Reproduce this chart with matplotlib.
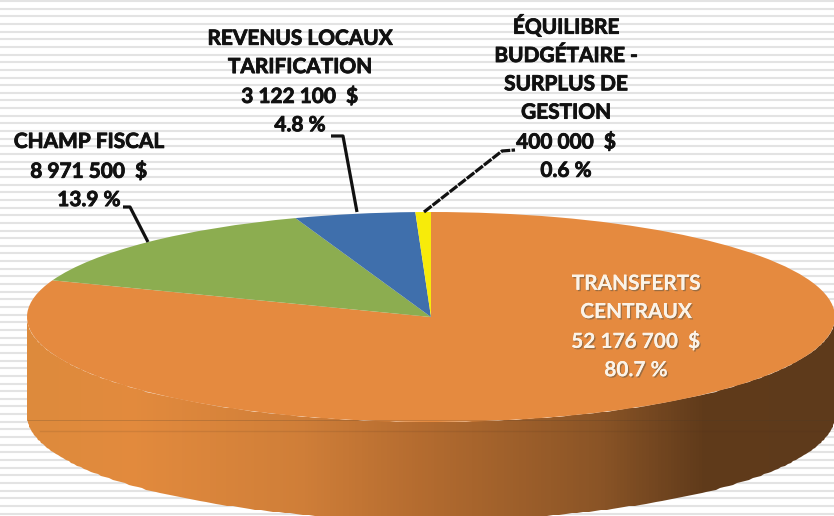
import numpy as np
from matplotlib import pyplot as plt
from matplotlib import patheffects as pe
from matplotlib.colors import LinearSegmentedColormap
from matplotlib.patches import Polygon

# Data
names = ['TRANSFERTS\nCENTRAUX', 'CHAMP FISCAL', 'REVENUS LOCAUX\nTARIFICATION',
         'ÉQUILIBRE\nBUDGÉTAIRE -\nSURPLUS DE\nGESTION']
amounts = [52176700, 8971500, 3122100, 400000]
amount_labels = ['52 176 700  $', '8 971 500  $', '3 122 100  $', '400 000  $']
percents = ['80.7 %', '13.9 %', '4.8 %', '0.6 %']
colors = ['#E58A3F', '#8CAD50', '#3F6FAC', '#F7EB0A']

# Pixel layout of the flattened pie
W, H = 834, 516
cx, cy, rx, ry = 431, 317, 404, 105
depth = 98

plt.rcParams.update({'font.family': 'Lato', 'font.weight': 'bold', 'font.size': 15})
fig = plt.figure(figsize=(W / 100, H / 100), dpi=100)

# Striped background
bg = fig.add_axes([0, 0, 1, 1], zorder=0)
bg.set(xlim=[0, W], ylim=[H, 0])
bg.axis('off')
bg.hlines(np.arange(1, H, 7.65), 0, W, color='#E3E3E3', lw=1.5)

# Pie: unit circle squashed through the axis limits
ax = fig.add_axes([0, 0, 1, 1], zorder=1)
ax.pie(amounts, colors=colors, startangle=90, counterclock=False, radius=1,
       wedgeprops={'linewidth': 0})
ax.set_aspect('auto')
ax.set(xlim=[-cx / rx, (W - cx) / rx], ylim=[(cy - H) / ry, cy / ry])

# Side wall with a left to right shading
wall_cmap = LinearSegmentedColormap.from_list('wall', [
    (0.00, '#DD8A3C'), (0.13, '#E28A3D'), (0.34, '#CF7E38'), (0.49, '#B36B2F'),
    (0.71, '#8A5426'), (0.84, '#5F3A1A'), (1.00, '#5E3A1B')])
t = np.linspace(np.pi, 2 * np.pi, 200)
d = depth / ry
outline = np.r_[np.c_[np.cos(t), np.sin(t) - d], np.c_[np.cos(t[::-1]), np.sin(t[::-1])]]
xg = np.linspace(-1, 1, 257)
mesh = ax.pcolormesh(xg, [-1 - d, 0], [np.linspace(0, 1, 256)], cmap=wall_cmap,
                     zorder=0, rasterized=True)
mesh.set_clip_path(Polygon(outline, transform=ax.transData))

# Labels and leader lines, in pixels
top = fig.add_axes([0, 0, 1, 1], zorder=2)
top.set(xlim=[0, W], ylim=[H, 0])
top.axis('off')
top.patch.set_alpha(0)

# faint compression lines across the wall
top.plot([27, 834], [420, 420], color='#4A3A2A', lw=0.6, alpha=0.25)
top.plot([40, 834], [431, 431], color='#4A3020', lw=1.0, alpha=0.12)

leaders = [[(148, 242), (130, 207), (123, 207)],
           [(357, 212), (343, 136), (331, 136)],
           [(424, 212), (502, 151), (515, 150)]]
for i, pts in enumerate(leaders):
    xs, ys = zip(*pts)
    top.plot(xs, ys, color='#111111', lw=2.3, solid_capstyle='butt',
             ls=(0, (3, 0.4)) if i == 2 else '-')

positions = [(636, 327), (89, 171), (300, 82), (566, 98)]
for i, (name, amount, pct, pos) in enumerate(zip(names, amount_labels, percents, positions)):
    txt = f'{name}\n{amount}\n{pct}'
    if i == 0:
        top.text(*pos, txt, ha='center', va='center', color='#FBF3E8', linespacing=1.52,
                 path_effects=[pe.withSimplePatchShadow(offset=(1, -1), shadow_rgbFace='#6B5A45', alpha=0.6),
                               pe.Normal()])
    else:
        top.text(*pos, txt, ha='center', va='center', color='#111111', linespacing=1.52,
                 path_effects=[pe.withStroke(linewidth=0.6, foreground='#111111')])

fig.savefig('out.png', dpi=100)
